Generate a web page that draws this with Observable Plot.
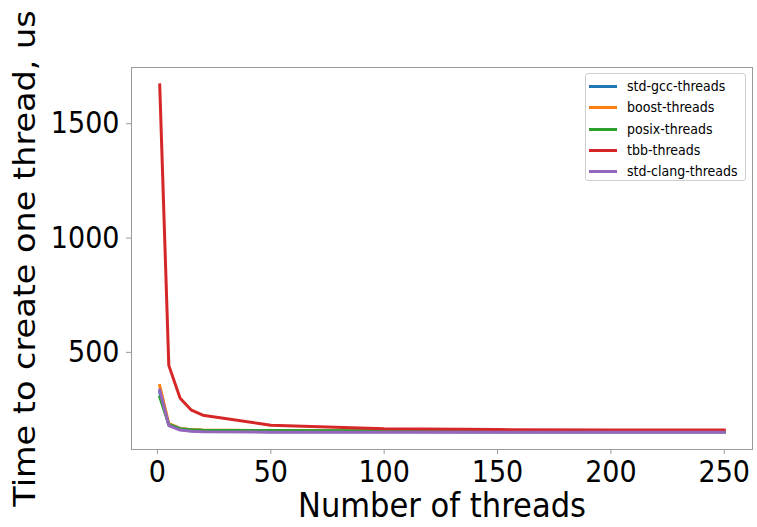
<!DOCTYPE html>
<html>
<head>
<meta charset="utf-8">
<script src="https://cdn.jsdelivr.net/npm/d3@7"></script>
<script src="https://cdn.jsdelivr.net/npm/@observablehq/plot@0.6"></script>
<style>
  html, body { margin: 0; padding: 0; background: #fff; }
  #wrap { position: relative; width: 757px; height: 527px; font-family: "DejaVu Sans", sans-serif; }
  #legend { position: absolute; left: 585px; top: 73px; width: 161px; height: 108px;
            border: 1px solid #cfcfcf; border-radius: 3px; background: rgba(255,255,255,0.8); box-sizing: border-box; }
  .item { position: absolute; left: 0; height: 20px; width: 100%; }
  .sw { position: absolute; left: 3px; top: 9px; width: 28px; height: 3px; }
  .lab { position: absolute; left: 41px; top: 0; font-size: 14px; line-height: 20px; color: #000;
         white-space: nowrap; transform: scaleX(0.9); transform-origin: left center; }
</style>
</head>
<body>
<div id="wrap"></div>
<script>
// ---- data ----
const threads = [1, 5, 10, 15, 20, 50, 100, 150, 200, 250];
const seriesNames = ["std-gcc-threads", "boost-threads", "posix-threads", "tbb-threads", "std-clang-threads"];
const stdGcc   = [325, 183, 162, 157, 155, 153, 153, 152, 152, 152];
const boost    = [355, 188, 167, 162, 160, 157, 157, 155, 155, 155];
const posix    = [305, 185, 166, 161, 159, 158, 157, 154, 153, 153];
const tbb      = [1670, 443, 299, 247, 225, 181, 166, 162, 160, 160];
const stdClang = [335, 180, 160, 155, 153, 151, 151, 151, 151, 151];
const seriesColors = ["#1f77b4", "#ff7f0e", "#2ca02c", "#d62728", "#9467bd"];
const xTicks = [0, 50, 100, 150, 200, 250];
const yTicks = [500, 1000, 1500];
const xLabel = "Number of threads";
const yLabel = "Time to create one thread, us";

const allSeries = [stdGcc, boost, posix, tbb, stdClang];
const rows = [];
allSeries.forEach((vals, si) => {
  vals.forEach((v, i) => rows.push({series: seriesNames[si], threads: threads[i], time: v}));
});

function padded(ext) {
  const p = (ext[1] - ext[0]) * 0.05;
  return [ext[0] - p, ext[1] + p];
}
const xDomain = padded(d3.extent(threads));
const yDomain = padded(d3.extent(rows, d => d.time));

const axisColor = "#9a9a9a";
const plain = d3.format("d");

const chart = Plot.plot({
  width: 757,
  height: 527,
  marginLeft: 131,
  marginRight: 5,
  marginTop: 67,
  marginBottom: 78,
  style: {fontFamily: "DejaVu Sans, sans-serif", background: "#fff", color: "#000"},
  x: {domain: xDomain},
  y: {domain: yDomain},
  color: {domain: seriesNames, range: seriesColors},
  marks: [
    Plot.line(rows, {x: "threads", y: "time", z: "series", stroke: "series",
                     strokeWidth: 3, strokeLinejoin: "round", strokeLinecap: "square"}),
    Plot.frame({stroke: axisColor, strokeWidth: 1}),
    Plot.axisX({ticks: xTicks, tickFormat: plain, tickSize: 5, tickPadding: 6, fontSize: 30, label: null,
                stroke: axisColor, fill: "#000"}),
    Plot.axisY({ticks: yTicks, tickFormat: plain, tickSize: 5, tickPadding: 7, fontSize: 30, label: null,
                stroke: axisColor, fill: "#000"}),
    Plot.text([xLabel], {frameAnchor: "bottom", text: d => d, fontSize: 34, dy: 57,
                         lineAnchor: "middle", fill: "#000"}),
    Plot.text([yLabel], {frameAnchor: "left", text: d => d, fontSize: 33.5, dx: -106,
                         rotate: -90, lineAnchor: "middle", textAnchor: "middle", fill: "#000"})
  ]
});

const wrap = document.getElementById("wrap");
wrap.appendChild(chart);

// horizontally condense all texts (the reference glyphs are narrow)
function squish(svg, k) {
  svg.querySelectorAll("text").forEach(t => {
    const p = t.parentNode;
    const r = t.getBoundingClientRect();
    const pm = p.getScreenCTM();
    const anchor = getComputedStyle(t).textAnchor;
    let ax;
    if (r.height > r.width * 1.5) ax = (r.left + r.right) / 2;
    else if (anchor === "end") ax = r.right;
    else if (anchor === "start") ax = r.left;
    else ax = (r.left + r.right) / 2;
    const px = (ax - pm.e) / pm.a;
    const g = document.createElementNS("http://www.w3.org/2000/svg", "g");
    g.setAttribute("transform", `translate(${px},0) scale(${k},1) translate(${-px},0)`);
    p.insertBefore(g, t);
    g.appendChild(t);
  });
}
squish(chart, 0.9);

// legend
const legend = document.createElement("div");
legend.id = "legend";
seriesNames.forEach((name, i) => {
  const item = document.createElement("div");
  item.className = "item";
  item.style.top = (2 + i * 21.3) + "px";
  const sw = document.createElement("div");
  sw.className = "sw";
  sw.style.background = seriesColors[i];
  const lab = document.createElement("div");
  lab.className = "lab";
  lab.textContent = name;
  item.appendChild(sw);
  item.appendChild(lab);
  legend.appendChild(item);
});
wrap.appendChild(legend);
</script>
</body>
</html>
